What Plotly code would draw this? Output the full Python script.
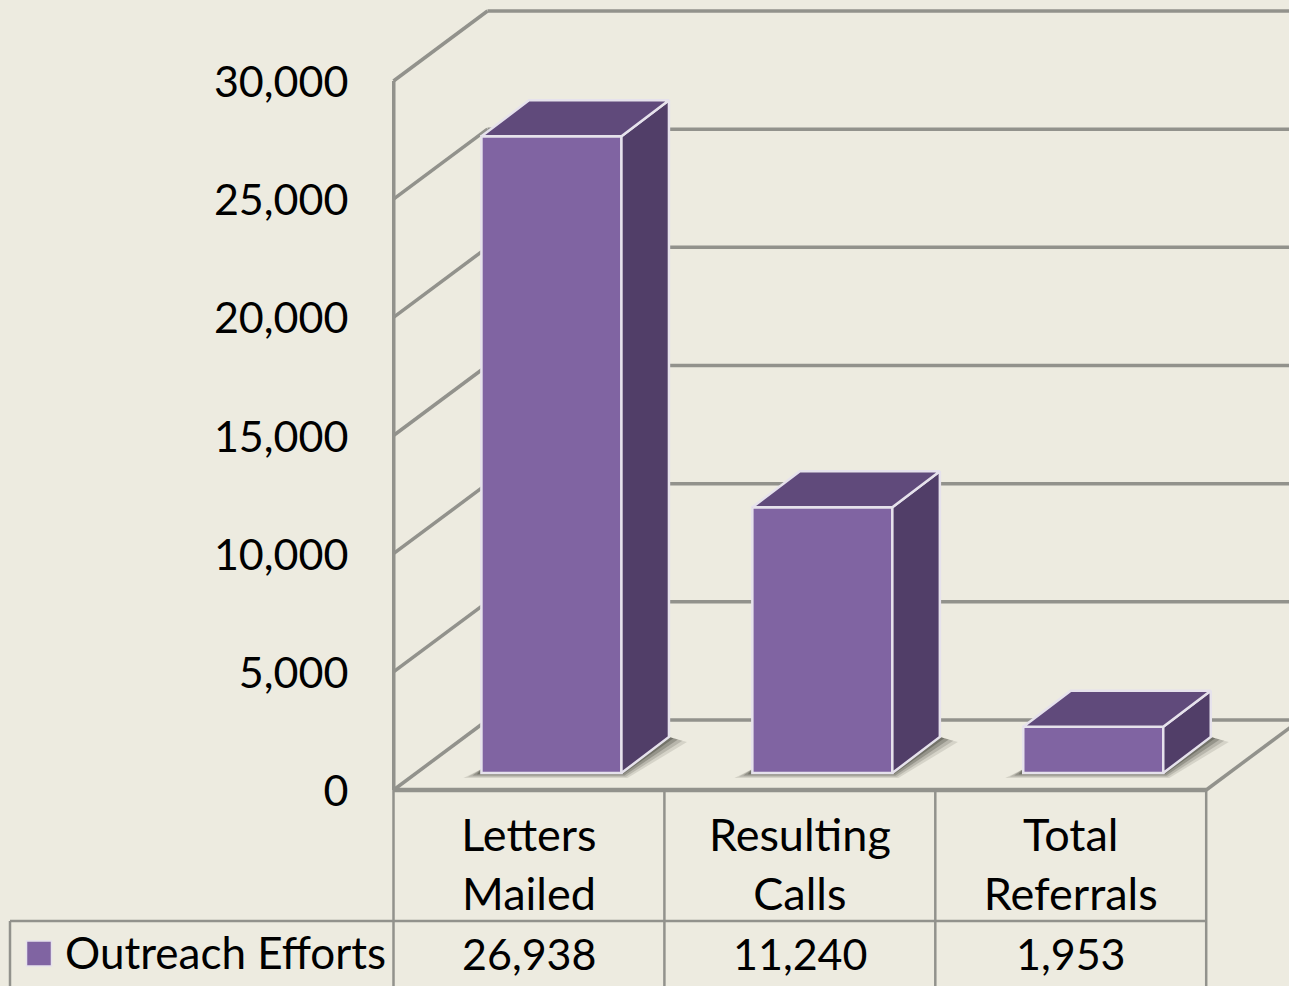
import plotly.graph_objects as go

# ---- data ----
categories = ["Letters<br>Mailed", "Resulting<br>Calls", "Total<br>Referrals"]
values = [26938, 11240, 1953]
series_name = "Outreach Efforts"
tick_values = [0, 5000, 10000, 15000, 20000, 25000, 30000]

# ---- page geometry (pixels) ----
W, H = 1289, 986
LEFT = 392            # front wall x
ZERO = 790.0          # value 0 on the front wall
CAT_PX = 270.9        # width of one category
PX_PER_VALUE = (790.0 - 81.0) / 30000
BG = "#EDEBE0"
GRID = "#92928C"
FRONT, SIDE, TOP = "#8064A2", "#513E68", "#604A7B"
EDGE = "#E6E2EC"
FONT = "Lato"
FS = 43


def ux(px):
    return px / CAT_PX


def uy(px):
    return px / PX_PER_VALUE


def px_x(px):
    return (px - LEFT) / (W - LEFT)


def px_y(px):
    return 1 - px / H


WALL_DX, WALL_DY = ux(94), uy(70)
BAR_W = ux(140)
BAR_SHIFT = ux(24)
BAR_BASE = uy(17)
BAR_DX, BAR_DY = ux(47.5), uy(36)

centers = [i + 0.5 for i in range(len(categories))]
bar_x = [c + BAR_SHIFT for c in centers]
y_lo = (ZERO - H) / PX_PER_VALUE
y_hi = ZERO / PX_PER_VALUE

shapes = []


def seg(x0, y0, x1, y1, width=3.5, color=GRID):
    shapes.append(dict(type="line", xref="x", yref="y", x0=x0, y0=y0, x1=x1, y1=y1,
                       layer="below", line=dict(color=color, width=width)))


def pseg(x0, y0, x1, y1, width=2.5, color=GRID):
    shapes.append(dict(type="line", xref="paper", yref="paper",
                       x0=px_x(x0), y0=px_y(y0), x1=px_x(x1), y1=px_y(y1),
                       layer="below", line=dict(color=color, width=width)))


# walls and gridlines
n = len(categories)
far = n + WALL_DX
wall_x = ux(1.5)
for v in tick_values:
    seg(wall_x, v, wall_x + WALL_DX, v + WALL_DY)
    seg(wall_x + WALL_DX, v + WALL_DY, far + wall_x, v + WALL_DY)
seg(wall_x, 0, wall_x, tick_values[-1], 4)
seg(wall_x, 0, n + wall_x, 0, 4.5)
seg(n + wall_x, 0, far + wall_x, WALL_DY)

# data table rules
for i in range(n + 1):
    xp = LEFT + 1.5 + i * CAT_PX
    pseg(xp, ZERO, xp, H)
pseg(10, 921, LEFT + 1.5 + n * CAT_PX, 921)
pseg(10, 921, 10, H)

# soft floor shadows
for grow, alpha in [(1.0, 0.14), (0.75, 0.20), (0.5, 0.30), (0.25, 0.42)]:
    for bx in bar_x:
        l, r = bx - BAR_W / 2, bx + BAR_W / 2
        b = BAR_BASE
        gx, gy = ux(18 * grow), uy(5 * grow)
        pts = [(l - gx, b - gy), (r + ux(6) * grow, b - gy),
               (r + BAR_DX + gx, b + BAR_DY - gy), (r + BAR_DX, b + BAR_DY),
               (r, b + uy(4)), (l, b + uy(4))]
        path = "M " + " L ".join(f"{a},{c}" for a, c in pts) + " Z"
        shapes.append(dict(type="path", xref="x", yref="y", path=path, layer="below",
                           fillcolor=f"rgba(70,70,60,{alpha})", line=dict(width=0)))

# legend key
shapes.append(dict(type="rect", xref="paper", yref="paper", layer="above",
                   x0=px_x(26.5), x1=px_x(51.5), y0=px_y(966), y1=px_y(941),
                   fillcolor=FRONT, line=dict(color=EDGE, width=1.5)))

fig = go.Figure()

fig.add_trace(go.Bar(
    x=bar_x, y=values, base=[BAR_BASE] * n, width=BAR_W, name=series_name,
    marker=dict(color=FRONT, line=dict(color=EDGE, width=2.5)),
    showlegend=False, hoverinfo="skip"))

# side and top faces follow the values
for bx, v in zip(bar_x, values):
    l, r = bx - BAR_W / 2, bx + BAR_W / 2
    t = BAR_BASE + v
    fig.add_trace(go.Scatter(
        x=[r, r + BAR_DX, r + BAR_DX, r, r],
        y=[BAR_BASE, BAR_BASE + BAR_DY, t + BAR_DY, t, BAR_BASE],
        mode="lines", fill="toself", fillcolor=SIDE, line=dict(color=EDGE, width=2.5),
        showlegend=False, hoverinfo="skip"))
    fig.add_trace(go.Scatter(
        x=[l, l + BAR_DX, r + BAR_DX, r, l],
        y=[t, t + BAR_DY, t + BAR_DY, t, t],
        mode="lines", fill="toself", fillcolor=TOP, line=dict(color=EDGE, width=2.5),
        showlegend=False, hoverinfo="skip"))

annotations = [dict(
    xref="paper", yref="paper", x=px_x(63), y=px_y(952), text=series_name,
    showarrow=False, xanchor="left", yanchor="middle",
    font=dict(family=FONT, size=44, color="black"))]
for c, v in zip(centers, values):
    annotations.append(dict(
        xref="x", yref="paper", x=c + ux(1.5), y=px_y(953), text=f"{v:,}", showarrow=False,
        xanchor="center", yanchor="middle",
        font=dict(family=FONT, size=FS, color="black")))

fig.update_layout(
    width=W, height=H, margin=dict(l=LEFT, r=0, t=0, b=0, pad=0),
    paper_bgcolor=BG, plot_bgcolor=BG, showlegend=False,
    shapes=shapes, annotations=annotations,
    xaxis=dict(range=[0, (W - LEFT) / CAT_PX], tickmode="array",
               tickvals=[c + ux(1.5) for c in centers],
               ticktext=categories, ticks="outside", ticklen=6, tickcolor="rgba(0,0,0,0)",
               tickangle=0, showgrid=False, zeroline=False, showline=False,
               anchor="free", position=px_y(ZERO),
               tickfont=dict(family=FONT, size=45, color="black")),
    yaxis=dict(range=[y_lo, y_hi], tickmode="array", tickvals=tick_values,
               tickformat=",", ticks="outside", ticklen=34, tickcolor="rgba(0,0,0,0)",
               ticklabelshift=1, showgrid=False, zeroline=False, showline=False,
               tickfont=dict(family=FONT, size=FS, color="black")),
)

fig.write_html("out.html", config=dict(displayModeBar=False),
               post_script="document.body.style.margin='0';document.body.style.overflow='hidden';")
